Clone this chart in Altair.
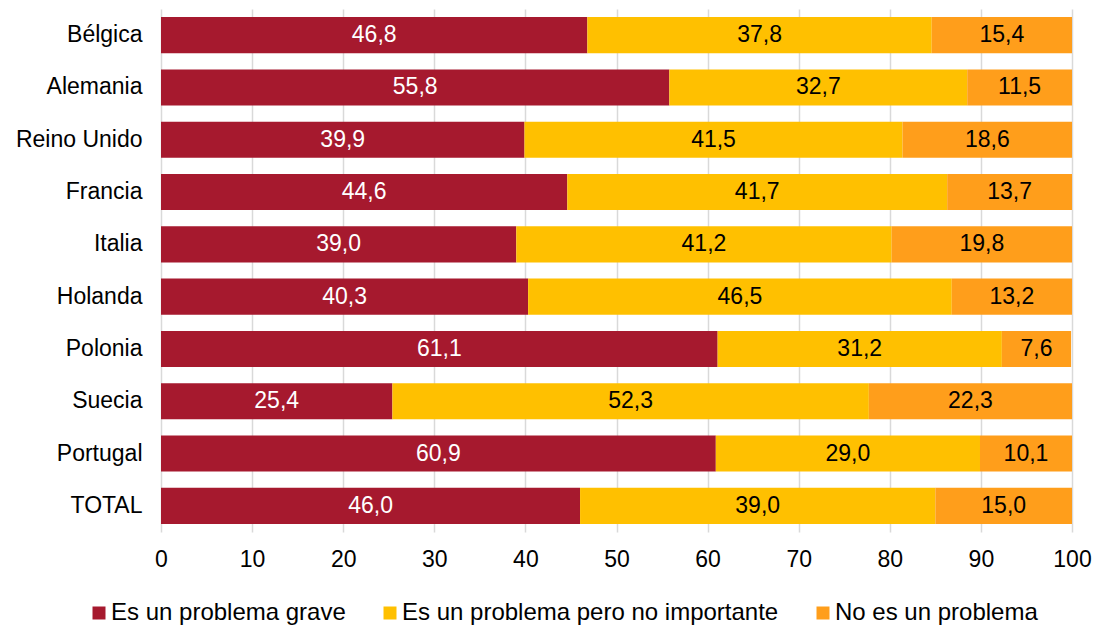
import altair as alt
import pandas as pd

countries = ["Bélgica", "Alemania", "Reino Unido", "Francia", "Italia",
             "Holanda", "Polonia", "Suecia", "Portugal", "TOTAL"]
grave = [46.8, 55.8, 39.9, 44.6, 39.0, 40.3, 61.1, 25.4, 60.9, 46.0]
no_importante = [37.8, 32.7, 41.5, 41.7, 41.2, 46.5, 31.2, 52.3, 29.0, 39.0]
no_problema = [15.4, 11.5, 18.6, 13.7, 19.8, 13.2, 7.6, 22.3, 10.1, 15.0]
series = ["Es un problema grave", "Es un problema pero no importante", "No es un problema"]
colors = ["#A6192E", "#FFC000", "#FF9E1B"]

rows = []
for i, c in enumerate(countries):
    for k, (s, vals) in enumerate(zip(series, [grave, no_importante, no_problema])):
        v = vals[i]
        rows.append({"pais": c, "serie": s, "orden": k, "valor": v,
                     "etiqueta": f"{v:.1f}".replace(".", ",")})
df = pd.DataFrame(rows)

FONT = "Liberation Sans"
FS = 23

base = alt.Chart(df).transform_stack(
    stack="valor", groupby=["pais"], as_=["x0", "x1"],
    sort=[alt.SortField("orden", order="ascending")]
).transform_calculate(mid="(datum.x0 + datum.x1) / 2")

y_enc = alt.Y("pais:N", sort=countries, title=None,
              scale=alt.Scale(paddingInner=0.31, paddingOuter=0.155),
              axis=alt.Axis(labelFont=FONT, labelFontSize=FS, labelColor="#000000",
                            ticks=False, domain=False, labelPadding=19, grid=False))

bars = base.mark_bar().encode(
    x=alt.X("x0:Q", scale=alt.Scale(domain=[0, 100], nice=False), title=None,
            axis=alt.Axis(values=list(range(0, 101, 10)), labelFont=FONT, labelFontSize=FS,
                          labelColor="#000000", grid=True, gridColor="#d9d9d9", gridWidth=1.5,
                          domain=False, ticks=False, labelPadding=16, labelFlush=False)),
    x2="x1:Q",
    y=y_enc,
    color=alt.Color("serie:N", sort=series,
                    scale=alt.Scale(domain=series, range=colors),
                    legend=alt.Legend(title=None, orient="none", direction="horizontal",
                                      legendX=-74, legendY=592, padding=0,
                                      labelFont=FONT, labelFontSize=24,
                                      labelColor="#000000", symbolType="square", symbolSize=169,
                                      symbolStrokeWidth=0, columnPadding=32, labelOffset=0,
                                      labelLimit=500)),
)

text = base.mark_text(font=FONT, fontSize=FS, baseline="middle", align="center").encode(
    x=alt.X("mid:Q"),
    y=alt.Y("pais:N", sort=countries),
    text="etiqueta:N",
    color=alt.condition(alt.datum.orden == 0, alt.value("#ffffff"), alt.value("#000000")),
)

chart = alt.layer(bars, text).properties(
    width=911, height=523,
    background="#ffffff",
    autosize=alt.AutoSizeParams(type="none"),
    padding={"left": 153, "top": 1, "right": 20, "bottom": 95},
).configure_view(stroke=None)

chart.save("out.html", embed_options={"renderer": "svg", "actions": False})
